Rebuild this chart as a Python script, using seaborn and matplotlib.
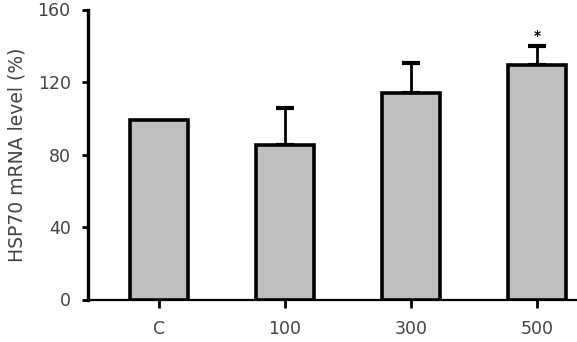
import matplotlib
matplotlib.use("Agg")
import matplotlib.pyplot as plt
import seaborn as sns
import pandas as pd
import numpy as np

categories = ["C", "100", "300", "500"]
values = [99, 85.5, 114, 129.3]
errors = [0, 20.3, 16.6, 10.3]
significance = ["", "", "", "*"]
yticks = [0, 40, 80, 120, 160]

sns.set_style("ticks")
plt.rcParams['font.family'] = ['DejaVu Sans']

df = pd.DataFrame({"group": categories, "value": values})

fig = plt.figure(figsize=(5.77, 3.42), dpi=100)
ax = fig.add_axes([88/577, (342-299.5)/342, 1 - 88/577, (299.5-9.5)/342])

sns.barplot(data=df, x="group", y="value", order=categories, color="#c0c0c0",
            edgecolor="black", linewidth=2.6, width=0.46, saturation=1,
            errorbar=None, ax=ax, zorder=3)

xs = np.arange(len(categories))
for x, v, e, s in zip(xs, values, errors, significance):
    if e > 0:
        ax.errorbar(x, v, yerr=[[0], [e]], fmt="none", ecolor="black",
                    elinewidth=2.0, capsize=6.5, capthick=3, zorder=2)
    if s:
        ax.text(x, v + e + 2, s, ha="center", va="bottom", fontsize=10,
                fontweight="bold", color="black")

ax.set_ylim(0, 160)
ax.set_xlim(-0.563, (577 - 159) / 126)
ax.set_yticks(yticks)
ax.set_yticklabels([str(t) for t in yticks])
ax.set_xlabel("")
ax.set_ylabel("HSP70 mRNA level (%)", fontsize=13.5, color="#444444", labelpad=8)

for side in ["top", "right"]:
    ax.spines[side].set_visible(False)
ax.spines["left"].set_linewidth(2.4)
ax.spines["bottom"].set_linewidth(1.6)
ax.spines["left"].set_color("black")
ax.spines["bottom"].set_color("black")
ax.tick_params(axis="both", direction="out", width=2, colors="black",
               labelsize=12.5, labelcolor="#444444")
ax.tick_params(axis="y", length=4.5, pad=8)
ax.tick_params(axis="x", length=6, pad=9)
ax.set_facecolor("white")
fig.patch.set_facecolor("white")

fig.savefig("out.png", dpi=100)
